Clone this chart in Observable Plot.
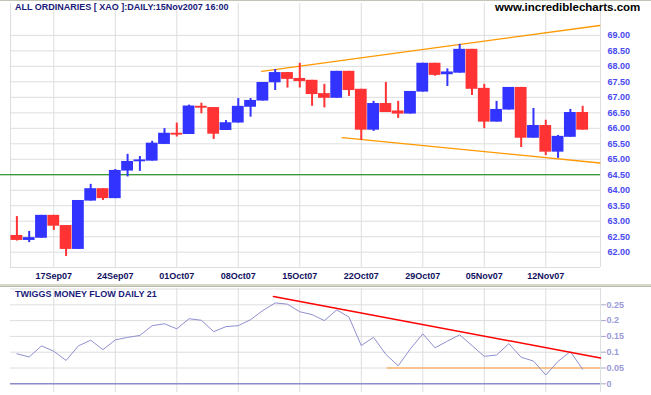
<!DOCTYPE html>
<html><head><meta charset="utf-8">
<script src="https://cdn.jsdelivr.net/npm/d3@7"></script>
<script src="https://cdn.jsdelivr.net/npm/@observablehq/plot@0.6"></script>
<style>
body{margin:0;background:#fff;}
#wrap{position:relative;width:651px;height:395px;overflow:hidden;font-family:"Liberation Sans",Arial,sans-serif;background:#fff;}
.t{position:absolute;white-space:nowrap;line-height:1;}
svg text{font-family:"Liberation Sans",Arial,sans-serif;}
</style></head><body>
<div id="wrap">
  <div id="mainPanel" style="position:absolute;left:0;top:0"></div>
  <div id="flowPanel" style="position:absolute;left:0;top:285px"></div>
  <div style="position:absolute;left:0;top:0;width:651px;height:1px;background:#c4c4b4"></div>
  <div style="position:absolute;left:0;top:284px;width:651px;height:2px;background:#d8d8c8"></div>
  <div style="position:absolute;left:0;top:286px;width:651px;height:1px;background:#bcbcac"></div>
  <div class="t" id="title" style="left:15px;top:3px;font-size:9px;font-weight:bold;color:#1a1a7a"></div>
  <div class="t" id="url" style="left:495px;top:2px;font-size:11.5px;font-weight:bold;color:#000"></div>
  <div class="t" id="title2" style="left:15px;top:290px;font-size:9px;font-weight:bold;color:#1a1a7a"></div>
</div>
<script>
// ---- data ----
const chartTitle = "ALL ORDINARIES [ XAO ]:DAILY:15Nov2007 16:00";
const siteName = "www.incrediblecharts.com";
const indicatorTitle = "TWIGGS MONEY FLOW DAILY 21";

// trading days 12Sep07 .. 15Nov07 (index 0..46)
const opens  = [62.54,62.38,62.45,63.19,62.86,62.09,63.65,64.05,63.73,64.62,64.92,64.94,65.48,65.84,65.80,66.71,66.67,65.93,66.17,66.68,66.88,67.47,67.80,67.61,67.55,67.12,66.97,67.84,67.26,65.94,66.80,66.56,66.46,67.17,68.10,67.73,67.78,68.55,67.29,66.20,66.59,67.32,65.68,66.09,65.23,65.71,66.51];
const closes = [62.38,62.47,63.19,62.84,62.09,63.67,64.05,63.73,64.64,64.93,64.98,65.52,65.84,65.78,66.72,66.65,65.81,66.18,66.71,66.90,67.48,67.80,67.58,67.51,67.09,66.97,67.84,67.22,65.94,66.80,66.51,66.46,67.19,68.10,67.71,67.82,68.55,67.26,66.20,66.61,67.32,65.68,66.09,65.23,65.74,66.51,65.94];
const highs  = [63.15,62.67,63.19,63.19,62.86,63.67,64.19,64.05,64.67,65.16,65.09,65.58,65.99,66.17,66.75,66.81,66.67,66.25,66.96,66.96,67.48,67.90,67.80,68.10,67.55,67.42,67.84,67.84,67.26,66.87,67.48,66.87,67.19,68.10,68.10,67.92,68.71,68.55,67.42,66.87,67.32,67.32,66.64,66.26,65.77,66.61,66.71];
const lows   = [62.36,62.31,62.45,62.70,61.86,62.09,63.65,63.67,63.73,64.43,64.61,64.94,65.48,65.72,65.80,66.47,65.64,65.93,66.17,66.36,66.88,67.22,67.30,67.30,66.71,66.66,66.97,67.03,65.61,65.90,66.51,66.32,66.46,67.17,67.68,67.35,67.78,67.06,65.99,66.20,66.59,65.38,65.68,65.12,65.03,65.71,65.94];

// Twiggs money flow (21)
const moneyFlow = [0.095,0.085,0.120,0.103,0.074,0.120,0.138,0.108,0.139,0.147,0.153,0.184,0.190,0.174,0.206,0.201,0.165,0.181,0.184,0.203,0.232,0.256,0.252,0.228,0.219,0.200,0.234,0.211,0.121,0.147,0.093,0.057,0.111,0.158,0.114,0.135,0.155,0.121,0.087,0.091,0.127,0.084,0.072,0.028,0.071,0.102,0.046];

// x-axis (Monday) ticks
const tickIdx = [3,8,13,18,23,28,33,38,43];
const tickLabels = ["17Sep07","24Sep07","01Oct07","08Oct07","15Oct07","22Oct07","29Oct07","05Nov07","12Nov07"];
const priceTicks = [62,62.5,63,63.5,64,64.5,65,65.5,66,66.5,67,67.5,68,68.5,69];
const mfTicks = [0,0.05,0.1,0.15,0.2,0.25];
const mfGrid = [0.05,0.1,0.15,0.2,0.25,0.3];

// trend lines (index, value)
const upperTrendIdx = [19.9, 47.4], upperTrendVal = [67.84, 69.32];
const lowerTrendIdx = [26.45, 47.4], lowerTrendVal = [65.70, 64.88];
const supportLevel = 64.5;
const mfTrendIdx = [20.86, 47.45], mfTrendVal = [0.276, 0.082];
const mfSupportIdx = [30.1, 47.45], mfSupportVal = 0.05;

// ---- build ----
const BLUE = "#3333ff", RED = "#ff3333", GRID = "#dedede";
const xDomain = [-0.52, 47.45];
const rows = opens.map((o, i) => ({i, o, c: closes[i], h: highs[i], l: lows[i], col: closes[i] >= o ? BLUE : RED}));
const upper = upperTrendIdx.map((i, k) => ({i, v: upperTrendVal[k]}));
const lower = lowerTrendIdx.map((i, k) => ({i, v: lowerTrendVal[k]}));
const mf = moneyFlow.map((v, i) => ({i, v}));
const mfTrend = mfTrendIdx.map((i, k) => ({i, v: mfTrendVal[k]}));

document.getElementById("title").textContent = chartTitle;
document.getElementById("url").textContent = siteName;
document.getElementById("title2").textContent = indicatorTitle;

const mainChart = Plot.plot({
  width: 651, height: 285,
  marginLeft: 10, marginRight: 51, marginTop: 3, marginBottom: 18,
  x: {type: "linear", domain: xDomain, axis: null, label: null},
  y: {domain: [61.506, 70.03], axis: null, label: null},
  color: {type: "identity"},
  style: {background: "transparent", overflow: "visible"},
  marks: [
    Plot.gridX(tickIdx, {stroke: GRID, strokeOpacity: 1}),
    Plot.gridY(priceTicks, {stroke: GRID, strokeOpacity: 1}),
    Plot.ruleX(xDomain, {stroke: GRID}),
    Plot.ruleY([61.506], {stroke: GRID}),
    Plot.ruleY([supportLevel], {x1: -1.35, x2: xDomain[1], stroke: "#008000", strokeWidth: 1.2}),
    Plot.line(upper, {x: "i", y: "v", stroke: "#ff9900", strokeWidth: 1.3}),
    Plot.line(lower, {x: "i", y: "v", stroke: "#ff9900", strokeWidth: 1.3}),
    Plot.ruleX(rows, {x: "i", y1: "l", y2: "h", stroke: "col", strokeWidth: 2}),
    Plot.rect(rows, {x1: d => d.i - 0.48, x2: d => d.i + 0.48, y1: "o", y2: d => (Math.abs(d.c - d.o) < 0.04 ? d.o + (d.c >= d.o ? 0.04 : -0.04) : d.c), fill: "col"}),
    Plot.axisY(priceTicks, {anchor: "right", label: null, tickSize: 0, tickPadding: 7, tickFormat: d => d.toFixed(2), fill: "#4a4af0", fontSize: 9, fontWeight: "bold"}),
    Plot.axisX(tickIdx, {label: null, tickSize: 0, tickPadding: 5, tickFormat: d => tickLabels[tickIdx.indexOf(d)], fill: "#101060", fontSize: 9, fontWeight: "bold"})
  ]
});
document.getElementById("mainPanel").append(mainChart);

const flowChart = Plot.plot({
  width: 651, height: 110,
  marginLeft: 10, marginRight: 51, marginTop: 3, marginBottom: 3,
  x: {type: "linear", domain: xDomain, axis: null, label: null},
  y: {domain: [-0.0275, 0.3016], axis: null, label: null},
  style: {background: "transparent", overflow: "visible"},
  marks: [
    Plot.gridX(tickIdx, {stroke: GRID, strokeOpacity: 1}),
    Plot.gridY(mfGrid, {stroke: GRID, strokeOpacity: 1}),
    Plot.ruleX([xDomain[1]], {stroke: GRID}),
    Plot.ruleY([0], {x1: xDomain[0], x2: xDomain[1], stroke: "#8c8cc8", strokeWidth: 1.5}),
    Plot.ruleY([mfSupportVal], {x1: mfSupportIdx[0], x2: mfSupportIdx[1], stroke: "#ff9933", strokeWidth: 1.2}),
    Plot.line(mf, {x: "i", y: "v", stroke: "#8f8fd0", strokeWidth: 1}),
    Plot.line(mfTrend, {x: "i", y: "v", stroke: "#ff0000", strokeWidth: 1.5}),
    Plot.axisY(mfTicks, {anchor: "right", label: null, tickSize: 5, tickPadding: 1, tickFormat: d => d3.format("")(d), stroke: "#a8a8c8", fill: "#9a9ad8", fontSize: 9, fontWeight: "bold"})
  ]
});
document.getElementById("flowPanel").append(flowChart);
</script>
</body></html>
